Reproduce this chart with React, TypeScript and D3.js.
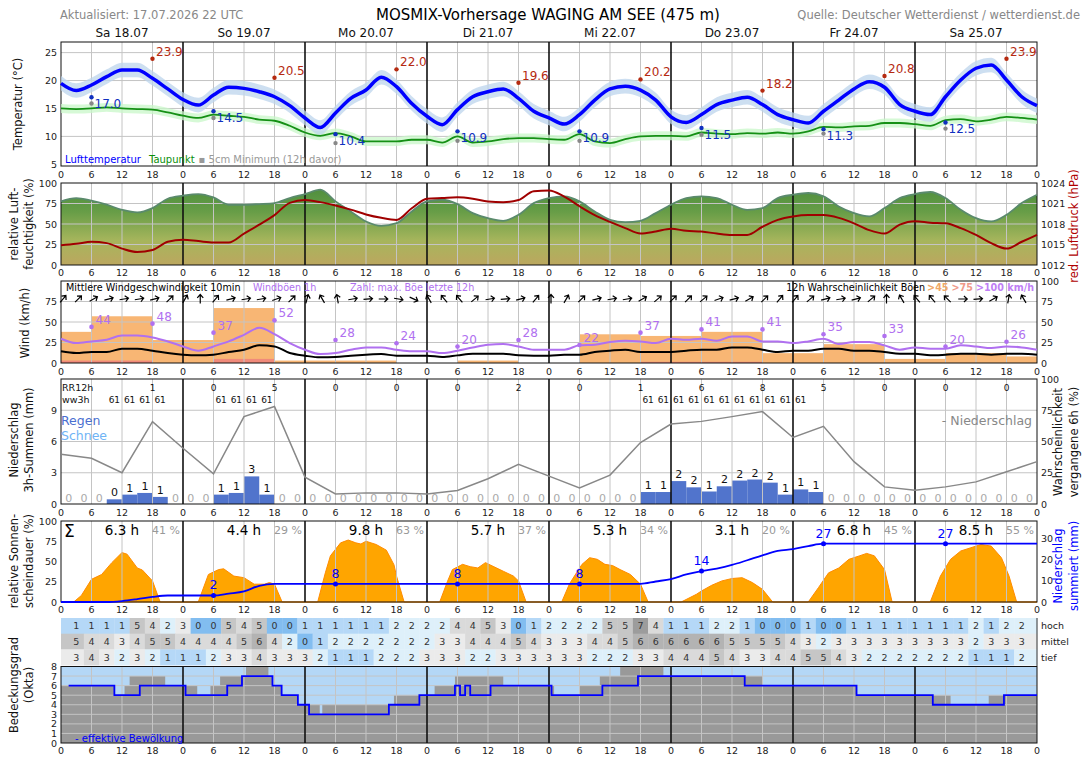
import * as d3 from 'd3';

const FONT = '"DejaVu Sans", Verdana, sans-serif';

const dayLabels = ['Sa 18.07', 'So 19.07', 'Mo 20.07', 'Di 21.07', 'Mi 22.07', 'Do 23.07', 'Fr 24.07', 'Sa 25.07'];

// 3-hourly values, h0 .. h192
const temp = [19.5, 18.2, 19.2, 20.7, 21.9, 21.9, 20.4, 18.5, 16.6, 15.6, 17.4, 18.8, 18.6, 18.0, 17.1, 15.5,
  13.3, 11.6, 14.2, 16.8, 18.3, 20.6, 18.9, 15.9, 13.6, 12.1, 14.8, 17.1, 18.0, 18.5, 16.8, 14.5,
  13.3, 12.2, 13.9, 16.5, 18.5, 19.0, 18.3, 16.5, 13.5, 12.5, 13.9, 15.7, 16.5, 17.0, 15.7, 13.9,
  13.0, 12.4, 14.5, 16.5, 18.5, 19.8, 18.8, 15.7, 14.5, 13.9, 17.1, 20.1, 22.2, 22.8, 20.1, 17.1, 15.5];
const dew = [15.0, 14.9, 15.0, 15.2, 15.0, 14.9, 14.8, 14.3, 13.7, 13.3, 13.9, 13.7, 13.5, 13.0, 12.8, 11.9,
  10.7, 10.1, 10.6, 10.0, 9.1, 9.1, 9.1, 9.4, 9.4, 8.9, 10.0, 8.9, 9.1, 9.5, 9.7, 9.7,
  9.5, 9.4, 10.4, 9.1, 8.8, 9.5, 10.0, 10.1, 10.1, 10.0, 10.7, 10.5, 10.4, 10.6, 10.5, 10.7,
  10.5, 10.9, 11.7, 11.6, 11.8, 11.9, 12.4, 12.4, 12.2, 11.9, 12.9, 13.1, 12.7, 13.0, 13.5, 13.3, 13.0];
const maxT = [23.9, 20.5, 22.0, 19.6, 20.2, 18.2, 20.8, 23.9];
const minT = [17.0, 14.5, 10.4, 10.9, 10.9, 11.5, 11.3, 12.5];
const min5cm = [15.9, 13.3, 8.8, 9.2, 9.2, 10.3, 10.5, 11.4];

const rh = [77.6, 81.6, 78.4, 73.5, 67.3, 64.1, 69.4, 80.8, 84.5, 86.5, 82.4, 73.5, 73.5, 74.3, 75.5, 81.6,
  86.5, 91.8, 77.6, 65.3, 53.1, 47.8, 51.0, 65.3, 77.6, 79.6, 74.3, 63.3, 57.1, 53.9, 61.2, 75.5,
  81.6, 83.7, 77.6, 65.3, 55.1, 52.2, 53.9, 63.3, 73.5, 81.6, 83.7, 81.6, 73.5, 67.3, 69.4, 81.6,
  85.7, 87.8, 83.7, 71.4, 63.3, 59.2, 69.4, 81.6, 86.5, 89.0, 81.6, 67.3, 57.1, 53.1, 61.2, 75.5, 85.7];
const pressure = [1014.9, 1015.1, 1015.4, 1015.2, 1014.4, 1013.9, 1014.2, 1015.4, 1015.7, 1015.5, 1015.3, 1015.3, 1016.6, 1017.9, 1019.3, 1021.1,
  1021.5, 1021.2, 1020.7, 1020.1, 1019.4, 1018.9, 1018.6, 1020.3, 1021.7, 1021.8, 1021.9, 1021.7, 1021.3, 1021.2, 1021.5, 1022.8,
  1022.9, 1022.0, 1020.6, 1019.3, 1018.3, 1017.4, 1016.6, 1016.9, 1017.3, 1017.0, 1016.9, 1016.6, 1016.4, 1016.4, 1017.6, 1018.6,
  1019.1, 1019.3, 1019.3, 1018.9, 1018.1, 1017.1, 1016.6, 1017.9, 1018.4, 1018.2, 1018.1, 1017.4, 1016.4, 1015.2, 1014.4, 1015.4, 1016.4];

const wind = [14.2, 12.1, 13.4, 13.4, 17.4, 17.4, 15.0, 12.1, 10.1, 9.3, 10.1, 13.4, 16.2, 21.5, 20.2, 12.1,
  8.9, 6.9, 7.3, 8.9, 10.1, 10.9, 8.9, 8.9, 8.9, 7.3, 9.3, 11.3, 11.3, 11.3, 9.3, 8.9,
  8.9, 10.1, 10.1, 13.4, 15.0, 16.2, 13.4, 13.4, 13.4, 15.0, 16.2, 16.2, 19.0, 19.0, 16.2, 13.4,
  15.0, 15.0, 17.4, 17.4, 15.0, 15.0, 13.4, 11.3, 11.3, 9.3, 10.1, 11.3, 11.3, 10.1, 11.3, 11.3, 10.1];
const gust = [29.6, 24.3, 26.3, 28.3, 33.6, 33.6, 31.2, 26.3, 20.2, 15.0, 20.2, 26.3, 34.4, 42.9, 35.2, 24.3,
  16.2, 10.9, 12.1, 16.2, 19.0, 19.0, 16.2, 14.2, 14.2, 12.1, 15.0, 19.0, 22.3, 23.1, 20.2, 16.2,
  16.2, 16.2, 21.5, 22.3, 25.5, 27.1, 26.3, 24.3, 29.6, 28.3, 29.6, 27.1, 32.4, 32.4, 26.3, 26.3,
  24.3, 26.3, 29.6, 23.1, 25.5, 25.5, 21.5, 16.2, 19.0, 17.4, 17.4, 21.5, 20.2, 18.2, 20.2, 19.0, 16.2];
const gustMax = [44, 48, 37, 52, 28, 24, 20, 28, 22, 37, 41, 41, 35, 33, 20, 26];
// wind direction (arrow points to), degrees, h0 .. h189
const windDir = [40, 45, 60, 75, 80, 80, 75, 45, 30, 0, 40, 75, 80, 80, 70, 45,
  15, 330, 350, 80, 85, 90, 100, 115, 330, 320, 320, 50, 80, 85, 75, 40,
  0, 30, 45, 75, 80, 80, 60, 50, 45, 45, 50, 70, 75, 60, 45, 40,
  40, 50, 75, 80, 75, 50, 0, 330, 320, 320, 315, 90, 85, 60, 10, 330];
const gustProbStart = [0, 6, 18, 30, 42, 54, 66, 78, 90, 102, 114, 126, 138, 150, 162, 174, 186];
const gustProb45 = [38, 57, 28, 67, 3, 3, 0, 3, 0, 35, 33, 38, 12, 23, 5, 12, 8];
const gustProb75 = [3, 3, 0, 5, 0, 0, 0, 0, 0, 0, 1.5, 1.5, 0, 0, 0, 0, 0];

// 3h precipitation sums, bins h0-3 .. h189-192
const precip = [0, 0, 0, 0.45, 0.9, 1.06, 0.68, 0, 0, 0, 0.9, 1.06, 2.65, 0.9, 0, 0,
  0, 0, 0, 0, 0, 0, 0, 0, 0, 0, 0, 0, 0, 0, 0, 0,
  0, 0, 0, 0, 0, 0, 1.15, 1.15, 2.2, 1.6, 1.2, 1.7, 2.25, 2.35, 2.05, 0.9,
  1.4, 1.15, 0, 0, 0, 0, 0, 0, 0, 0, 0, 0, 0, 0, 0, 0];
const ww3h = [0, 0, 0, 61, 61, 61, 61, 0, 0, 0, 61, 61, 61, 61, 0, 0,
  0, 0, 0, 0, 0, 0, 0, 0, 0, 0, 0, 0, 0, 0, 0, 0,
  0, 0, 0, 0, 0, 0, 61, 61, 61, 61, 61, 61, 61, 61, 61, 61,
  61, 0, 0, 0, 0, 0, 0, 0, 0, 0, 0, 0, 0, 0, 0, 0];
const rr12h = [null, 1, 0, 5, 0, 0, 0, 2, 0, 1, 6, 8, 5, 0, 0, 0];
// precipitation probability, 6-hourly h0 .. h192
const precipProb = [39.8, 36.6, 25, 65.9, 44.6, 24.2, 69.9, 78, 21.5, 8, 8.9, 8.9, 8, 10.8, 20.2, 31.7,
  22.3, 12.9, 23.1, 49.2, 64, 66.1, 69.9, 73.9, 53.2, 62.1, 33.9, 13.7, 11, 13.7, 17.7, 25.8, 33.9];

const sunHours = [6.3, 4.4, 9.8, 5.7, 5.3, 3.1, 6.8, 8.5];
const sunPct = [41, 29, 63, 37, 34, 20, 45, 55];
const sunshine: [number, number][] = [
  [0, 0], [2.5, 0], [4, 8], [6, 28], [8, 34], [10, 48.6], [12, 61], [13, 59], [15, 42], [16, 39.5], [18, 26], [19.5, 0],
  [27, 0], [29, 34], [31, 40], [32, 41], [34, 32], [36, 30], [38, 22], [40, 22], [41, 24], [42, 22], [43.5, 0],
  [50.5, 0], [52, 36], [53, 57], [55, 73], [56.5, 76.5], [58, 73], [59, 71.6], [60, 75], [62, 71], [64, 64], [65.5, 46], [66, 32], [67.5, 0],
  [74.5, 0], [76, 25], [77, 40], [79, 46.5], [80.5, 43.6], [82, 42], [83.5, 48.6], [85, 44], [87, 38], [89, 32], [90, 26], [91.5, 0],
  [98.5, 0], [100, 22], [101, 32], [102.5, 46.5], [104, 54.7], [105.5, 52.7], [107, 46.5], [108.5, 45], [110, 40], [112, 34], [114, 22], [115.5, 0],
  [122, 0], [125, 9.5], [126, 13.6], [128, 20.6], [130, 26], [132, 29], [134, 30], [136, 24], [138, 15.6], [140, 0],
  [147, 0], [149, 17.7], [151, 36], [153, 42], [155, 52.7], [157, 56.8], [158.5, 60], [160, 57], [162, 40], [163.5, 0],
  [171, 0], [173, 32], [175, 52.7], [177, 63], [179, 67], [181, 71], [183, 69], [185, 54.7], [186.5, 32], [188, 0], [192, 0],
];
const sumLabels = [2, 8, 8, 8, 14, 27, 27];

// cloud cover in okta, values at h3 .. h189
const cloudHigh = [1, 1, 1, 1, 5, 4, 2, 3, 0, 0, 5, 4, 5, 0, 0, 1, 1, 1, 1, 1, 1, 2, 2, 2, 2, 4, 4, 5, 3, 0, 1,
  2, 2, 2, 2, 5, 5, 7, 4, 1, 1, 1, 2, 2, 1, 0, 0, 0, 1, 0, 0, 1, 1, 1, 1, 1, 1, 1, 1, 2, 1, 2, 2];
const cloudMid = [5, 4, 4, 3, 4, 5, 5, 4, 4, 4, 4, 5, 6, 4, 2, 0, 1, 2, 2, 2, 2, 2, 2, 2, 3, 3, 4, 4, 4, 5, 4,
  3, 3, 3, 4, 4, 5, 6, 6, 6, 6, 6, 6, 5, 5, 5, 5, 4, 3, 2, 3, 3, 3, 3, 3, 3, 3, 3, 3, 2, 3, 3, 3];
const cloudLow = [3, 4, 3, 2, 3, 2, 1, 1, 1, 2, 3, 3, 4, 3, 3, 3, 2, 1, 1, 1, 2, 2, 2, 3, 3, 3, 2, 2, 3, 3, 3,
  3, 3, 3, 2, 2, 2, 3, 3, 4, 4, 4, 5, 4, 3, 3, 4, 4, 5, 5, 4, 3, 2, 2, 2, 2, 2, 2, 2, 1, 1, 1, 2];
const cloudTotal: [number, number][] = [[0, 6], [10.5, 5], [12.5, 6], [13.5, 7], [20.5, 6], [26.8, 5], [29.4, 6], [31.3, 7], [36.4, 8], [40.8, 7], [41.6, 6], [43.4, 5], [46.6, 4], [50.9, 3], [51.4, 4], [65.5, 5], [73.5, 6], [77.5, 7], [87, 6], [97, 5], [102, 6], [106, 7], [110, 8], [118.5, 7], [138, 6], [156.5, 5], [175, 4], [182.5, 5]];
const cloudEff: [number, number][] = [[1.5, 6], [10.5, 5], [15.5, 6], [24.5, 5], [32.7, 6], [35.6, 7], [41.6, 6], [43.4, 5], [46.6, 4], [48.8, 3], [64.5, 4], [70.5, 5], [77.5, 6], [78.5, 5], [79.5, 6], [80.5, 5], [84.5, 6], [96.5, 5], [106.5, 6], [113.5, 7], [134.5, 6], [156.5, 5], [171.5, 4], [185.5, 5]];

const x = d3.scaleLinear().domain([0, 192]).range([61, 1037]);
const tempY = d3.scaleLinear().domain([4.7, 26.9]).range([166, 42]);
const humY = d3.scaleLinear().domain([0, 100]).range([265, 183]);
const presY = d3.scaleLinear().domain([1012, 1024]).range([265, 183]);
const windY = d3.scaleLinear().domain([0, 100]).range([363, 281]);
const precY = d3.scaleLinear().domain([0, 12]).range([504, 379]);
const probY = d3.scaleLinear().domain([0, 100]).range([504, 379]);
const sunY = d3.scaleLinear().domain([0, 100]).range([602, 521]);
const cumY = d3.scaleLinear().domain([0, 38.5]).range([602, 521]);
const cloudY = d3.scaleLinear().domain([0, 8]).range([743, 666.5]);
const tableTop = 618, rowH = 15.7;

const hrs6 = d3.range(0, 193, 6);
const GRID = '#c4c4c4';

function cloudColor(v: number) {
  return ['#82bdf0', '#b5d8f7', '#def0fa', '#ebebeb', '#dadada', '#c6c6c6', '#b3b3b3', '#9c9c9c', '#888888'][v];
}

function Frame({ top, bottom, yTicks = [] as number[], y = (v: number) => v, vGrid = true }) {
  return (
    <g>
      {vGrid && hrs6.filter((h) => h % 24 !== 0).map((h) => (
        <line key={'v' + h} x1={x(h)} x2={x(h)} y1={top} y2={bottom} stroke={GRID} strokeWidth={1} />
      ))}
      {yTicks.map((t) => (
        <line key={'h' + t} x1={x(0)} x2={x(192)} y1={y(t)} y2={y(t)} stroke={GRID} strokeWidth={1} />
      ))}
      {d3.range(24, 192, 24).map((h) => (
        <line key={'d' + h} x1={x(h)} x2={x(h)} y1={top} y2={bottom} stroke="#111" strokeWidth={1.6} />
      ))}
      <rect x={x(0)} y={top} width={x(192) - x(0)} height={bottom - top} fill="none" stroke="#111" strokeWidth={1} />
    </g>
  );
}

function XLabels({ y }: { y: number }) {
  return (
    <g fontSize={9.5} fill="#222" textAnchor="middle">
      {hrs6.map((h) => (
        <text key={h} x={x(h)} y={y} dominantBaseline="central">{h % 24}</text>
      ))}
    </g>
  );
}

function YLabels({ ticks, y, side = 'left', fmt = (v: number) => String(v), color = '#222' }: any) {
  const left = side === 'left';
  return (
    <g fontSize={9.5} fill={color} textAnchor={left ? 'end' : 'start'}>
      {ticks.map((t: number) => (
        <text key={t} x={left ? 57 : 1041} y={y(t)} dominantBaseline="central">{fmt(t)}</text>
      ))}
    </g>
  );
}

function VTitle({ lines, cx, cy, color = '#111', gap = 15 }: any) {
  const n = lines.length;
  return (
    <g fontSize={11.5} fill={color} textAnchor="middle">
      {lines.map((l: string, i: number) => {
        const xx = cx + (i - (n - 1) / 2) * gap;
        return (
          <text key={i} transform={`translate(${xx},${cy}) rotate(-90)`} dominantBaseline="central">{l}</text>
        );
      })}
    </g>
  );
}

export default function App() {
  const pts = (arr: number[], step = 3) => arr.map((v, i) => [i * step, v] as [number, number]);

  const tLine = d3.line<[number, number]>().x((d) => x(d[0])).y((d) => tempY(d[1])).curve(d3.curveMonotoneX);
  const tBand = (spread: number) =>
    d3.area<[number, number]>().x((d) => x(d[0])).y0((d) => tempY(d[1] - spread)).y1((d) => tempY(d[1] + spread)).curve(d3.curveMonotoneX);

  const humArea = d3.area<[number, number]>().x((d) => x(d[0])).y0(humY(0)).y1((d) => humY(d[1])).curve(d3.curveMonotoneX);
  const humLine = d3.line<[number, number]>().x((d) => x(d[0])).y((d) => humY(d[1])).curve(d3.curveMonotoneX);
  const presLine = d3.line<[number, number]>().x((d) => x(d[0])).y((d) => presY(d[1])).curve(d3.curveMonotoneX);
  const windLine = d3.line<[number, number]>().x((d) => x(d[0])).y((d) => windY(d[1])).curve(d3.curveMonotoneX);
  const probLine = d3.line<[number, number]>().x((d) => x(d[0])).y((d) => probY(d[1]));
  const sunArea = d3.area<[number, number]>().x((d) => x(d[0])).y0(sunY(0)).y1((d) => sunY(d[1]));

  const cum = [0, ...d3.cumsum(precip)];
  const cumPts = cum.map((v, i) => [i * 3, v] as [number, number]);
  const cumLine = d3.line<[number, number]>().x((d) => x(d[0])).y((d) => cumY(d[1])).curve(d3.curveMonotoneX);

  const stepPts = (s: [number, number][]) => [...s, [192, s[s.length - 1][1]] as [number, number]];
  const cloudArea = d3.area<[number, number]>().x((d) => x(d[0])).y0(cloudY(0)).y1((d) => cloudY(d[1])).curve(d3.curveStepAfter);
  const cloudLine = d3.line<[number, number]>().x((d) => x(d[0])).y((d) => cloudY(d[1])).curve(d3.curveStepAfter);

  const tableRows = [cloudHigh, cloudMid, cloudLow];
  const rowNames = ['hoch', 'mittel', 'tief'];

  return (
    <svg width={1088} height={763} style={{ position: 'absolute', left: 0, top: 0, background: '#fff' }} fontFamily={FONT}>
      <defs>
        <linearGradient id="humGrad" gradientUnits="userSpaceOnUse" x1={0} x2={0} y1={183} y2={265}>
          <stop offset="0" stopColor="#4a8c3c" />
          <stop offset="0.35" stopColor="#679d47" />
          <stop offset="0.7" stopColor="#a6b55c" />
          <stop offset="1" stopColor="#bca75f" />
        </linearGradient>
      </defs>

      {/* header */}
      <text x={60} y={19} fontSize={11.5} fill="#888">Aktualisiert: 17.07.2026 22 UTC</text>
      <text x={548} y={20} fontSize={15} fill="#000" textAnchor="middle">MOSMIX-Vorhersage WAGING AM SEE (475 m)</text>
      <text x={1080} y={19} fontSize={11.5} fill="#888" textAnchor="end">Quelle: Deutscher Wetterdienst / wetterdienst.de</text>
      {dayLabels.map((d, i) => (
        <text key={d + i} x={x(12 + 24 * i)} y={37} fontSize={12} textAnchor="middle" fill="#111">{d}</text>
      ))}

      {/* temperature */}
      <Frame top={42} bottom={166} yTicks={[10, 15, 20, 25]} y={tempY} />
      <path d={tBand(0.8)(pts(dew))!} fill="#c8f7c8" opacity={0.75} />
      <path d={tBand(1.3)(pts(temp))!} fill="#bcd4ec" opacity={0.75} />
      <path d={tLine(pts(dew))!} fill="none" stroke="#159015" strokeWidth={1.8} />
      <path d={tLine(pts(temp))!} fill="none" stroke="#0000ff" strokeWidth={3.5} />
      {maxT.map((v, i) => (
        <g key={'mx' + i}>
          <circle cx={x(18 + 24 * i)} cy={tempY(v)} r={2.2} fill="#b52a10" />
          <text x={x(18 + 24 * i) + 3.5} y={tempY(v) - 3} fontSize={12} fill="#b52a10">{v.toFixed(1)}</text>
        </g>
      ))}
      {minT.map((v, i) => (
        <g key={'mn' + i}>
          <circle cx={x(6 + 24 * i)} cy={tempY(min5cm[i])} r={2.2} fill="#888" />
          <circle cx={x(6 + 24 * i)} cy={tempY(v)} r={2.2} fill="#1030c0" />
          <text x={x(6 + 24 * i) + 3} y={tempY(v) + 11} fontSize={12} fill="#1030c0">{v.toFixed(1)}</text>
        </g>
      ))}
      <text x={65} y={163} fontSize={10}>
        <tspan fill="#0000ff">Lufttemperatur</tspan>
        <tspan fill="#0a8f0a" dx={8}>Taupunkt</tspan>
        <tspan fill="#999" dx={4}>▪ 5cm Minimum (12h davor)</tspan>
      </text>
      <YLabels ticks={[5, 10, 15, 20, 25]} y={tempY} />
      <XLabels y={174} />
      <VTitle lines={['Temperatur (°C)']} cx={18} cy={104} />

      {/* humidity / pressure */}
      <path d={humArea(pts(rh))!} fill="url(#humGrad)" />
      <Frame top={183} bottom={265} yTicks={[25, 50, 75]} y={humY} />
      <path d={humLine(pts(rh))!} fill="none" stroke="#5a8a6c" strokeWidth={1.8} />
      <path d={presLine(pts(pressure))!} fill="none" stroke="#a00000" strokeWidth={2} />
      <YLabels ticks={[0, 25, 50, 75, 100]} y={humY} />
      <YLabels ticks={[1012, 1015, 1018, 1021, 1024]} y={presY} side="right" />
      <XLabels y={272.5} />
      <VTitle lines={['relative Luft-', 'feuchtigkeit (%)']} cx={21} cy={224} />
      <VTitle lines={['red. Luftdruck (hPa)']} cx={1074} cy={226} color="#b00000" />

      {/* wind */}
      {gustProbStart.map((s, i) => {
        const e = i + 1 < gustProbStart.length ? gustProbStart[i + 1] : 192;
        return (
          <g key={'gp' + i}>
            {gustProb45[i] > 0 && (
              <rect x={x(s)} y={windY(gustProb45[i])} width={x(e) - x(s)} height={windY(0) - windY(gustProb45[i])} fill="#f8b674" />
            )}
            {gustProb75[i] > 0 && (
              <rect x={x(s)} y={windY(gustProb75[i])} width={x(e) - x(s)} height={windY(0) - windY(gustProb75[i])} fill="#f08a7a" />
            )}
          </g>
        );
      })}
      <Frame top={281} bottom={363} yTicks={[25, 50, 75]} y={windY} />
      <path d={windLine(pts(gust))!} fill="none" stroke="#b070f0" strokeWidth={2} />
      <path d={windLine(pts(wind))!} fill="none" stroke="#000" strokeWidth={2} />
      {gustMax.map((v, i) => (
        <g key={'gm' + i}>
          <circle cx={x(6 + 12 * i)} cy={windY(v)} r={2.3} fill="#b070f0" />
          <text x={x(6 + 12 * i) + 4} y={windY(v) - 3} fontSize={12} fill="#b070f0">{v}</text>
        </g>
      ))}
      {windDir.map((a, i) => (
        <g key={'wd' + i} transform={`translate(${x(i * 3) + 2},299) rotate(${a})`}>
          <path d="M0,4.5 L0,-4.5 M-3,-1.2 L0,-4.5 L3,-1.2" fill="none" stroke="#000" strokeWidth={1.2} />
        </g>
      ))}
      <text x={66} y={291} fontSize={9.6}>
        <tspan fill="#000">Mittlere Windgeschwindigkeit 10min</tspan>
      </text>
      <text x={253} y={291} fontSize={9.6} fill="#b070f0">Windböen 1h</text>
      <text x={350} y={291} fontSize={9.6} fill="#b070f0">Zahl: max. Böe letzte 12h</text>
      <text x={1034} y={291} fontSize={9.6} textAnchor="end">
        <tspan fill="#000">12h Wahrscheinlichkeit Böen</tspan>
        <tspan fill="#f0a868" fontWeight="bold" dx={2}>&gt;45</tspan>
        <tspan fill="#f09a8a" fontWeight="bold" dx={3}>&gt;75</tspan>
        <tspan fill="#c07ff5" fontWeight="bold" dx={3}>&gt;100 km/h</tspan>
      </text>
      <YLabels ticks={[0, 25, 50, 75]} y={windY} />
      <YLabels ticks={[0, 25, 50, 75, 100]} y={windY} side="right" />
      <XLabels y={371.5} />
      <VTitle lines={['Wind (km/h)']} cx={25} cy={323} />

      {/* precipitation */}
      {precip.map((v, i) =>
        v > 0 ? (
          <rect key={'pr' + i} x={x(i * 3)} y={precY(v)} width={x(i * 3 + 3) - x(i * 3)} height={precY(0) - precY(v)} fill="#5174cc" />
        ) : null
      )}
      <Frame top={379} bottom={504} yTicks={[3, 6, 9]} y={precY} />
      <path d={probLine(pts(precipProb, 6))!} fill="none" stroke="#888" strokeWidth={1.5} />
      {precip.map((v, i) => (
        <text key={'pl' + i} x={x(i * 3 + 1.5)} y={v > 0 ? precY(v) - 3 : 502} fontSize={11} textAnchor="middle" fill={v > 0 ? '#111' : '#aaa'}>
          {Math.round(v)}
        </text>
      ))}
      {ww3h.map((w, i) =>
        w > 0 ? (
          <text key={'ww' + i} x={x(i * 3 + 1.5)} y={403} fontSize={9} textAnchor="middle" fill="#111">{w}</text>
        ) : null
      )}
      {rr12h.map((r, i) =>
        r !== null ? (
          <text key={'rr' + i} x={x(6 + 12 * i)} y={391} fontSize={9} textAnchor="middle" fill="#111">{r}</text>
        ) : null
      )}
      <text x={62} y={391} fontSize={9.5} fill="#111">RR12h</text>
      <text x={62} y={403} fontSize={9.5} fill="#111">ww3h</text>
      <text x={61} y={425} fontSize={12.5} fill="#4a6fd0">Regen</text>
      <text x={61} y={440} fontSize={12.5} fill="#6fb4f5">Schnee</text>
      <text x={1032} y={425} fontSize={12.5} fill="#888" textAnchor="end">- Niederschlag</text>
      <YLabels ticks={[0, 3, 6, 9]} y={precY} />
      <YLabels ticks={[0, 25, 50, 75, 100]} y={probY} side="right" />
      <XLabels y={512} />
      <VTitle lines={['Niederschlag', '3h-Summen (mm)']} cx={21} cy={440} />
      <VTitle lines={['Wahrscheinlichkeit', 'vergangene 6h (%)']} cx={1066} cy={442} gap={16} />

      {/* sunshine */}
      <path d={sunArea(sunshine)!} fill="#ffa500" stroke="#ff8c00" strokeWidth={1} />
      <Frame top={521} bottom={602} />
      <path d={cumLine(cumPts)!} fill="none" stroke="#0000ff" strokeWidth={1.8} />
      {sumLabels.map((s, i) => {
        const h = 30 + 24 * i;
        const v = cum[h / 3];
        return (
          <g key={'sl' + i}>
            <circle cx={x(h)} cy={cumY(v)} r={2.5} fill="#0000ff" />
            <text x={x(h)} y={cumY(v) - 6} fontSize={12.5} textAnchor="middle" fill="#0000ff">{s}</text>
          </g>
        );
      })}
      {sunHours.map((s, i) => (
        <g key={'sh' + i}>
          <text x={x(12 + 24 * i)} y={535} fontSize={13.5} textAnchor="middle" fill="#000">{s.toFixed(1)} h</text>
          <text x={x(24 + 24 * i) - 3} y={534} fontSize={11} textAnchor="end" fill="#999">{sunPct[i]} %</text>
        </g>
      ))}
      <text x={64} y={537} fontSize={17} fill="#000">Σ</text>
      <YLabels ticks={[0, 25, 50, 75, 100]} y={sunY} />
      <YLabels ticks={[0, 10, 20, 30]} y={cumY} side="right" />
      <XLabels y={609.5} />
      <VTitle lines={['relative Sonnen-', 'scheindauer (%)']} cx={21} cy={561} />
      <VTitle lines={['Niederschlag', 'summiert (mm)']} cx={1066} cy={566} color="#0000ff" gap={16} />

      {/* cloud table */}
      {tableRows.map((row, r) => (
        <g key={'row' + r}>
          {row.map((v, i) => {
            const h = 3 * (i + 1);
            const a = i === 0 ? 0 : h - 1.5;
            const b = i === row.length - 1 ? 192 : h + 1.5;
            return <rect key={i} x={x(a)} y={tableTop + r * rowH} width={x(b) - x(a) + 0.3} height={rowH + 0.3} fill={cloudColor(v)} />;
          })}
          {row.map((v, i) => (
            <text key={'t' + i} x={x(3 * (i + 1))} y={tableTop + r * rowH + rowH / 2} fontSize={9.5} textAnchor="middle" dominantBaseline="central" fill="#333">{v}</text>
          ))}
          <text x={1041} y={tableTop + r * rowH + rowH / 2} fontSize={9.5} dominantBaseline="central" fill="#222">{rowNames[r]}</text>
        </g>
      ))}
      <line x1={x(192)} x2={x(192)} y1={tableTop} y2={666} stroke="#333" strokeWidth={1} />

      {/* cloud cover */}
      <rect x={x(0)} y={cloudY(8)} width={x(192) - x(0)} height={cloudY(0) - cloudY(8)} fill="#b4d7f6" />
      <path d={cloudArea(stepPts(cloudTotal))!} fill="#999999" />
      <Frame top={666.5} bottom={743} yTicks={[1, 2, 3, 4, 5, 6, 7]} y={cloudY} />
      <path d={cloudLine(stepPts(cloudEff))!} fill="none" stroke="#0000ff" strokeWidth={1.8} />
      <text x={75} y={742} fontSize={10} fill="#0000ff">- effektive Bewölkung</text>
      <YLabels ticks={[0, 1, 2, 3, 4, 5, 6, 7, 8]} y={cloudY} />
      <XLabels y={750.5} />
      <VTitle lines={['Bedeckungsgrad', '(Okta)']} cx={21} cy={685} />
    </svg>
  );
}
